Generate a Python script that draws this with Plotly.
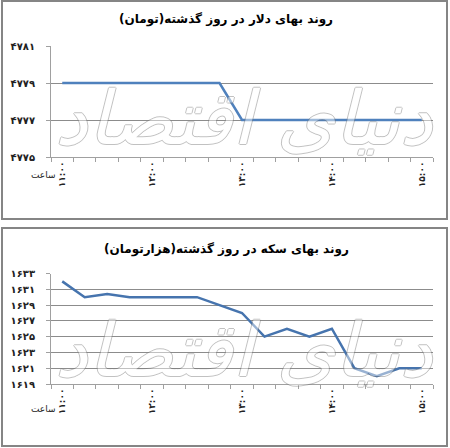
import plotly.graph_objects as go

# ساعت ها (هر ربع ساعت)
saat = ["۱۱:۰۰", "۱۱:۱۵", "۱۱:۳۰", "۱۱:۴۵", "۱۲:۰۰", "۱۲:۱۵", "۱۲:۳۰", "۱۲:۴۵",
        "۱۳:۰۰", "۱۳:۱۵", "۱۳:۳۰", "۱۳:۴۵", "۱۴:۰۰", "۱۴:۱۵", "۱۴:۳۰", "۱۴:۴۵", "۱۵:۰۰"]
saat_label = ["۱۱:۰۰", "۱۲:۰۰", "۱۳:۰۰", "۱۴:۰۰", "۱۵:۰۰"]

dolar = [4779, 4779, 4779, 4779, 4779, 4779, 4779, 4779,
         4777, 4777, 4777, 4777, 4777, 4777, 4777, 4777, 4777]
sekke = [1632, 1630, 1630.4, 1630, 1630, 1630, 1630, 1629,
         1628, 1625, 1626, 1625, 1626, 1621, 1620, 1621, 1621]

dolar_ticks = [4775, 4777, 4779, 4781]
sekke_ticks = [1619, 1621, 1623, 1625, 1627, 1629, 1631, 1633]

titr_dolar = "روند بهای دلار در روز گذشته(تومان)"
titr_sekke = "روند بهای سکه در روز گذشته(هزارتومان)"

W, H = 450, 448
fa = str.maketrans("0123456789", "۰۱۲۳۴۵۶۷۸۹")


def px(x):
    return x / W


def py(y):
    return 1 - y / H


idx = list(range(len(saat)))
idx_label = [saat.index(s) for s in saat_label]

fig = go.Figure()
fig.add_trace(go.Scatter(x=idx, y=dolar, mode="lines", xaxis="x", yaxis="y",
                         line=dict(color="#4F81BD", width=2.5), hoverinfo="skip"))
fig.add_trace(go.Scatter(x=idx, y=sekke, mode="lines", xaxis="x2", yaxis="y2",
                         line=dict(color="#4674AE", width=2.5), hoverinfo="skip"))

grid = "#8C8C8C"
xfont = dict(family="DejaVu Sans", size=9, color="#222", weight="bold")
yfont = dict(family="DejaVu Sans", size=10, color="#222", weight="bold")

xcommon = dict(range=[-0.5, len(saat) - 0.5], tickvals=idx_label, ticktext=saat_label,
               tickangle=-90, showgrid=False, zeroline=False, showline=True,
               linecolor="#A0A0A0", linewidth=1, ticks="", tickfont=xfont,
               minor=dict(tick0=-0.5, dtick=1, ticks="outside", ticklen=4,
                          tickcolor="#A0A0A0", showgrid=False),
               automargin=False, fixedrange=True)

ycommon = dict(showgrid=True, gridcolor=grid, gridwidth=1, zeroline=False,
               showline=True, linecolor="#A0A0A0", ticks="outside", ticklen=4,
               tickcolor="#A0A0A0", tickfont=yfont, ticklabelstandoff=9,
               automargin=False, fixedrange=True)

fig.update_layout(
    width=W, height=H, margin=dict(l=0, r=0, t=0, b=0),
    paper_bgcolor="white", plot_bgcolor="white", showlegend=False,
    xaxis=dict(domain=[px(51), px(433)], anchor="y", **xcommon),
    yaxis=dict(domain=[py(157), py(46)], range=[4775, 4781], tickvals=dolar_ticks,
               ticktext=[str(v).translate(fa) for v in dolar_ticks], **ycommon),
    xaxis2=dict(domain=[px(51), px(433)], anchor="y2", **xcommon),
    yaxis2=dict(domain=[py(384), py(273.5)], range=[1619, 1633], tickvals=sekke_ticks,
                ticktext=[str(v).translate(fa) for v in sekke_ticks], **ycommon),
)

# قاب دور هر نمودار
for y0, y1 in [(1, 219), (228, 446)]:
    fig.add_shape(type="rect", xref="paper", yref="paper",
                  x0=px(2), x1=px(447), y0=py(y1), y1=py(y0),
                  line=dict(color="#858585", width=2))

# واترمارک
edge = "rgba(120,120,120,1)"
for y in [118, 350]:
    fig.add_annotation(text="دنیای اقتصاد", xref="paper", yref="paper", x=px(244), y=py(y),
                       yanchor="middle", showarrow=False, opacity=0.45,
                       font=dict(family="DejaVu Sans", size=74, style="italic", color="white",
                                 shadow=f"1px 0 0 {edge}, -1px 0 0 {edge}, 0 1px 0 {edge}, 0 -1px 0 {edge}"))

# عنوان ها و برچسب ساعت
for txt, y in [(titr_dolar, 20), (titr_sekke, 249)]:
    fig.add_annotation(text=txt, xref="paper", yref="paper", x=px(226), y=py(y),
                       yanchor="middle", showarrow=False,
                       font=dict(family="DejaVu Sans", size=12, color="black", weight="bold"))
for y in [175, 409]:
    fig.add_annotation(text="ساعت", xref="paper", yref="paper", x=px(29), y=py(y),
                       yanchor="middle", showarrow=False,
                       font=dict(family="DejaVu Sans", size=9, color="#222"))

fig.write_html("out.html", config={"displayModeBar": False},
               post_script="document.body.style.margin='0';")
